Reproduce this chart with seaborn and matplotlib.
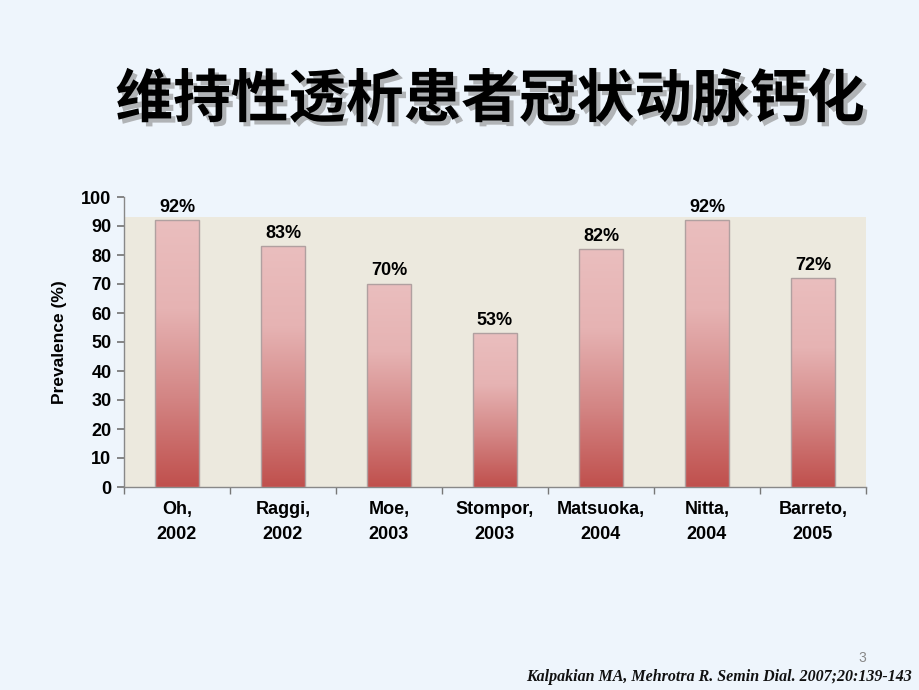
import matplotlib
matplotlib.use("Agg")
import matplotlib.pyplot as plt
import matplotlib.patheffects as pe
from matplotlib.colors import LinearSegmentedColormap
import numpy as np
import pandas as pd
import seaborn as sns

categories = ["Oh,\n2002", "Raggi,\n2002", "Moe,\n2003", "Stompor,\n2003",
              "Matsuoka,\n2004", "Nitta,\n2004", "Barreto,\n2005"]
values = [92, 83, 70, 53, 82, 92, 72]
value_labels = ["92%", "83%", "70%", "53%", "82%", "92%", "72%"]
yticks = [0, 10, 20, 30, 40, 50, 60, 70, 80, 90, 100]
title = "维持性透析患者冠状动脉钙化"
ylabel = "Prevalence (%)"
footer = "Kalpakian MA, Mehrotra R. Semin Dial. 2007;20:139-143"
page = "3"

sns.set_theme(style="white")
plt.rcParams['font.family'] = ['Liberation Sans', 'DejaVu Sans']

page_bg = "#eef5fc"
plot_bg = "#ece9de"
txt = "#000000"

fig = plt.figure(figsize=(9.2, 6.9), dpi=100, facecolor=page_bg)
ax = fig.add_axes([124/920, 1-487/690, (866-124)/920, (487-197)/690])
ax.set_facecolor(page_bg)

df = pd.DataFrame({"cat": categories, "val": values})
sns.barplot(data=df, x="cat", y="val", ax=ax, width=0.41, color="#d99a9a",
            edgecolor="#b0a0a0", linewidth=1.0, zorder=3)
bars = list(ax.patches)

ax.set_xlim(-0.5, len(categories) - 0.5)
ax.set_ylim(0, 100)
ax.axhspan(0, 93, color=plot_bg, zorder=0, lw=0)

cmap = LinearSegmentedColormap.from_list("g", ["#c0504d", "#d38584", "#e6b3b3", "#eabebe"])
grad = np.linspace(0, 1, 256).reshape(-1, 1)
for p in bars:
    x0, y0, w, h = p.get_x(), p.get_y(), p.get_width(), p.get_height()
    im = ax.imshow(grad, cmap=cmap, aspect="auto", origin="lower",
                   extent=[x0, x0 + w, y0, y0 + h], zorder=3.5)
    im.set_clip_path(p)
    p.set_facecolor("none")
    p.set_zorder(4)
ax.set_xlim(-0.5, len(categories) - 0.5)
ax.set_ylim(0, 100)

for i, (v, lab) in enumerate(zip(values, value_labels)):
    ax.text(i, v + 1.6, lab, ha="center", va="bottom", fontsize=13,
            fontweight="bold", color=txt)

ax.set_yticks(yticks)
ax.set_yticklabels([str(t) for t in yticks], fontsize=13, fontweight="bold", color=txt)
ax.set_xticks(range(len(categories)))
ax.set_xticklabels(categories, fontsize=13, fontweight="bold", linespacing=1.65, color=txt)
ax.tick_params(axis="x", length=0, pad=10)
ax.set_xticks(np.arange(-0.5, len(categories) + 0.5, 1), minor=True)
ax.tick_params(axis="x", which="minor", length=5, color="#777777", direction="out", bottom=True)
ax.tick_params(axis="y", length=5, color="#777777", direction="out", left=True, pad=4)
ax.set_xlabel("")
ax.set_ylabel(ylabel, fontsize=12.5, fontweight="bold", labelpad=10, color=txt)

for s in ["top", "right"]:
    ax.spines[s].set_visible(False)
for s in ["left", "bottom"]:
    ax.spines[s].set_color("#888888")
    ax.spines[s].set_linewidth(1.0)

fig.text(490/920, 1 - 100/690, title, ha="center", va="center", fontsize=41.5,
         fontweight="bold", family=["Noto Sans CJK SC", "DejaVu Sans"], color="#000000",
         path_effects=[pe.withSimplePatchShadow(offset=(3, -3), shadow_rgbFace="#888888", alpha=0.6)])

fig.text(862/920, 1 - 658/690, page, ha="center", va="center", fontsize=10, color="#888888")
fig.text(912/920, 1 - 677/690, footer, ha="right", va="center", fontsize=11.5,
         fontweight="bold", style="italic", family=["Liberation Serif", "DejaVu Serif"],
         color="#111111")

fig.savefig("out.png", dpi=100, facecolor=page_bg)
